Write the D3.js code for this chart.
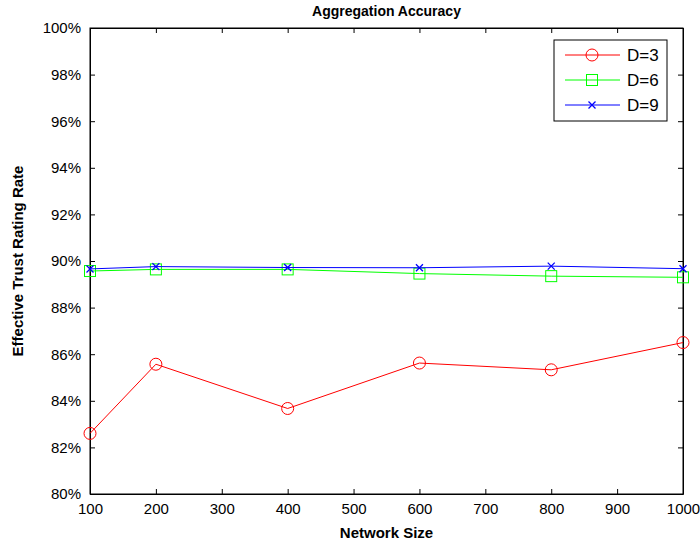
<!DOCTYPE html>
<html>
<head>
<meta charset="utf-8">
<script src="https://cdn.jsdelivr.net/npm/d3@7"></script>
<style>
  body { margin: 0; background: #fff; }
  text { font-family: "Liberation Sans", Arial, sans-serif; }
</style>
</head>
<body>
<div id="chart"></div>
<script>
const sizes = [100, 200, 400, 600, 800, 1000];
const d3Values = [82.60, 85.57, 83.67, 85.62, 85.33, 86.50];
const d6Values = [89.57, 89.64, 89.64, 89.46, 89.35, 89.30];
const d9Values = [89.66, 89.76, 89.72, 89.71, 89.78, 89.67];
const xTicks = [100, 200, 300, 400, 500, 600, 700, 800, 900, 1000];
const yTicks = [80, 82, 84, 86, 88, 90, 92, 94, 96, 98, 100];

const series = [
    { name: 'D=3', values: d3Values, color: '#ff0000', marker: 'circle' },
    { name: 'D=6', values: d6Values, color: '#00ff00', marker: 'square' },
    { name: 'D=9', values: d9Values, color: '#0000ff', marker: 'cross' }
];

const width = 700;
const height = 547;
const margin = { top: 28, right: 17, bottom: 53, left: 90 };

const svg = d3.select('#chart')
    .append('svg')
    .attr('width', width)
    .attr('height', height);

const xScale = d3.scaleLinear()
    .domain([100, 1000])
    .range([margin.left, width - margin.right]);

const yScale = d3.scaleLinear()
    .domain([80, 100])
    .range([height - margin.bottom, margin.top]);

const x0 = margin.left, x1 = width - margin.right;
const y0 = height - margin.bottom, y1 = margin.top;

// plot box
svg.append('rect')
    .attr('x', x0).attr('y', y1)
    .attr('width', x1 - x0).attr('height', y0 - y1)
    .attr('fill', '#fff').attr('stroke', '#000').attr('stroke-width', 1);

// axes, ticks pointing inward
const xAxis = d3.axisBottom(xScale).tickValues(xTicks).tickSizeInner(-5).tickSizeOuter(0).tickPadding(9)
    .tickFormat(d3.format('d'));
const xAxisTop = d3.axisTop(xScale).tickValues(xTicks).tickSizeInner(-5).tickSizeOuter(0).tickFormat('');
const yAxis = d3.axisLeft(yScale).tickValues(yTicks).tickSizeInner(-5).tickSizeOuter(0).tickPadding(9)
    .tickFormat(d => d + '%');
const yAxisRight = d3.axisRight(yScale).tickValues(yTicks).tickSizeInner(-5).tickSizeOuter(0).tickFormat('');

function styleAxis(g) {
    g.select('.domain').attr('stroke', '#000');
    g.selectAll('.tick line').attr('stroke', '#000');
    g.selectAll('.tick text').attr('fill', '#000').style('font-size', '15px')
        .style('font-family', '"Liberation Sans", Arial, sans-serif');
}

svg.append('g').attr('transform', `translate(0, ${y0})`).call(xAxis).call(styleAxis);
svg.append('g').attr('transform', `translate(0, ${y1})`).call(xAxisTop).call(styleAxis);
svg.append('g').attr('transform', `translate(${x0}, 0)`).call(yAxis).call(styleAxis);
svg.append('g').attr('transform', `translate(${x1}, 0)`).call(yAxisRight).call(styleAxis);

// titles
svg.append('text')
    .attr('x', (x0 + x1) / 2).attr('y', 16)
    .attr('text-anchor', 'middle')
    .style('font-size', '14px').style('font-weight', 'bold')
    .text('Aggregation Accuracy');

svg.append('text')
    .attr('x', (x0 + x1) / 2).attr('y', 538)
    .attr('text-anchor', 'middle')
    .style('font-size', '15px').style('font-weight', 'bold')
    .text('Network Size');

svg.append('text')
    .attr('transform', `translate(23, ${(y0 + y1) / 2}) rotate(-90)`)
    .attr('text-anchor', 'middle')
    .style('font-size', '15px').style('font-weight', 'bold')
    .text('Effective Trust Rating Rate');

function drawMarker(g, type, color) {
    if (type === 'circle') {
        g.append('circle').attr('r', 6).attr('fill', 'none').attr('stroke', color).attr('stroke-width', 1);
    } else if (type === 'square') {
        g.append('rect').attr('x', -5.5).attr('y', -5.5).attr('width', 11).attr('height', 11)
            .attr('fill', 'none').attr('stroke', color).attr('stroke-width', 1);
    } else {
        g.append('path').attr('d', 'M-3.5,-3.5L3.5,3.5M-3.5,3.5L3.5,-3.5')
            .attr('stroke', color).attr('stroke-width', 1.3);
    }
}

const line = d3.line()
    .x((d, i) => xScale(sizes[i]))
    .y(d => yScale(d));

series.forEach(s => {
    svg.append('path')
        .datum(s.values)
        .attr('fill', 'none')
        .attr('stroke', s.color)
        .attr('stroke-width', 1)
        .attr('d', line);
    s.values.forEach((v, i) => {
        const g = svg.append('g').attr('transform', `translate(${xScale(sizes[i])}, ${yScale(v)})`);
        drawMarker(g, s.marker, s.color);
    });
});

// legend
const legend = svg.append('g').attr('transform', 'translate(554, 40)');
legend.append('rect')
    .attr('width', 113).attr('height', 81)
    .attr('fill', '#fff').attr('stroke', '#000').attr('stroke-width', 1);

series.forEach((s, i) => {
    const yy = 15 + i * 25;
    legend.append('line')
        .attr('x1', 11).attr('x2', 66).attr('y1', yy).attr('y2', yy)
        .attr('stroke', s.color).attr('stroke-width', 1);
    const g = legend.append('g').attr('transform', `translate(38, ${yy})`);
    drawMarker(g, s.marker, s.color);
    legend.append('text')
        .attr('x', 73).attr('y', yy + 6)
        .style('font-size', '17px')
        .text(s.name);
});
</script>
</body>
</html>
